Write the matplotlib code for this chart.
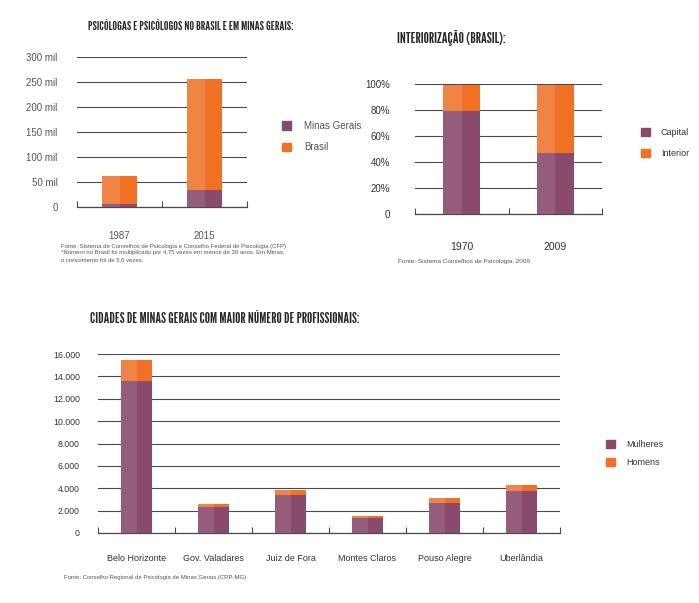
""" Psicólogas e psicólogos: Brasil e Minas Gerais """

import matplotlib
matplotlib.use("Agg")
import matplotlib.pyplot as plt
from matplotlib.patches import Patch

# --- dados ---
anos_1 = ["1987", "2015"]
minas_mil = [6, 34]
brasil_mil = [62, 256]
ticks_1 = [0, 50, 100, 150, 200, 250, 300]

anos_2 = ["1970", "2009"]
capital_pct = [79, 47]
interior_pct = [20, 52]
ticks_2 = [0, 20, 40, 60, 80, 100]

cidades = ["Belo Horizonte", "Gov. Valadares", "Juiz de Fora",
           "Montes Claros", "Pouso Alegre", "Uberlândia"]
mulheres = [13600, 2350, 3400, 1350, 2700, 3750]
homens = [1900, 250, 400, 200, 450, 550]
ticks_3 = [0, 2000, 4000, 6000, 8000, 10000, 12000, 14000, 16000]

ROXO = "#8a4a6c"
ROXO_CLARO = "#955c7c"
LARANJA = "#f07024"
LARANJA_CLARO = "#ef8444"
GRADE = "#4a4a4a"
TEXTO = "#555555"
TITULO = "#2a2a2a"

plt.rcParams["font.family"] = ["Liberation Sans", "DejaVu Sans"]
fonte_titulo = dict(family=["League Gothic", "Bebas Neue", "Oswald", "Roboto Condensed",
                            "Liberation Sans Narrow", "DejaVu Sans"],
                    weight="bold", fontsize=10, color=TITULO)

fig = plt.figure(figsize=(6.99, 6.03), dpi=100)
fig.patch.set_facecolor("white")


def px_axes(left, right, top, bottom):
	""" axes a partir de coordenadas em pixels """
	W, H = 699.0, 603.0
	return fig.add_axes([left / W, 1 - bottom / H, (right - left) / W, (bottom - top) / H])


def titulo(x0, x1, y, texto):
	""" título condensado ajustado à largura do original """
	t = fig.text(x0 / 699, 1 - y / 603, texto, va="center", **fonte_titulo)
	fig.canvas.draw()
	w = t.get_window_extent().width
	t.set_fontsize(t.get_fontsize() * (x1 - x0) / w)
	return t


def estilo(ax, n, pad_x, tick_len):
	""" estilo comum dos três gráficos """
	for s in ["top", "right", "left"]:
		ax.spines[s].set_visible(False)
	ax.spines["bottom"].set_color(GRADE)
	ax.spines["bottom"].set_linewidth(0.9)
	ax.set_xlim(0, n)
	ax.set_xticks(range(n + 1))
	ax.set_xticklabels([])
	ax.tick_params(axis="x", which="major", direction="in", length=tick_len,
	               width=0.8, color=GRADE)
	ax.set_xticks([i + 0.5 for i in range(n)], minor=True)
	ax.tick_params(axis="x", which="minor", length=0, pad=pad_x,
	               labelsize=7, labelcolor=TEXTO)
	ax.tick_params(axis="y", length=0, labelcolor=TEXTO)
	ax.yaxis.grid(True, color=GRADE, linewidth=0.8)
	ax.set_axisbelow(True)


def barra(ax, x, altura, base, cor, cor_clara, largura):
	""" barra com metade esquerda mais clara """
	ax.bar(x, altura, largura, bottom=base, color=cor, zorder=3)
	ax.bar([v - largura / 2 for v in x], altura, largura / 2, bottom=base,
	       color=cor_clara, align="edge", zorder=3)


# ---------- gráfico 1 ----------
ax1 = px_axes(77, 247, 57, 207)
estilo(ax1, 2, 17, 4)
x1 = [0.5, 1.5]
barra(ax1, x1, brasil_mil, 0, LARANJA, LARANJA_CLARO, 0.41)
barra(ax1, x1, minas_mil, 0, ROXO, ROXO_CLARO, 0.41)
ax1.set_ylim(0, 300)
ax1.set_yticks(ticks_1)
ax1.set_yticklabels(["0" if t == 0 else f"{t} mil" for t in ticks_1], fontsize=7)
ax1.tick_params(axis="y", pad=14)
ax1.set_xticklabels(anos_1, minor=True)
titulo(88, 292, 26, "PSICÓLOGAS E PSICÓLOGOS NO BRASIL E EM MINAS GERAIS:")
fig.legend(handles=[Patch(color=ROXO, label="Minas Gerais"),
                    Patch(color=LARANJA, label="Brasil")],
           loc="upper left", bbox_to_anchor=(273 / 699, 1 - 112 / 603),
           frameon=False, fontsize=7, labelcolor=TEXTO, handlelength=1.0,
           handleheight=1.0, labelspacing=1.2, handletextpad=1.3)
nota = ("Fonte: Sistema de Conselhos de Psicologia e Conselho Federal de Psicologia (CFP)\n"
        "*Número no Brasil foi multiplicado por 4,75 vezes em menos de 30 anos. Em Minas,\n"
        "o crescimento foi de 5,6 vezes.")
fig.text(61 / 699, 1 - 244 / 603, nota, va="top", fontsize=4.3, color=TEXTO,
         linespacing=1.35)

# ---------- gráfico 2 ----------
ax2 = px_axes(415, 602, 84, 214)
estilo(ax2, 2, 20, 4)
x2 = [0.5, 1.5]
barra(ax2, x2, capital_pct, 0, ROXO, ROXO_CLARO, 0.4)
barra(ax2, x2, interior_pct, capital_pct, LARANJA, LARANJA_CLARO, 0.4)
ax2.set_ylim(0, 100)
ax2.set_yticks(ticks_2)
ax2.set_yticklabels(["0" if t == 0 else f"{t}%" for t in ticks_2], fontsize=7)
ax2.tick_params(axis="y", pad=18, labelcolor="#333333")
ax2.set_xticklabels(anos_2, minor=True, color="#333333", fontsize=7.5)
titulo(397, 505, 38, "INTERIORIZAÇÃO (BRASIL):")
fig.legend(handles=[Patch(color=ROXO, label="Capital"),
                    Patch(color=LARANJA, label="Interior")],
           loc="upper left", bbox_to_anchor=(633 / 699, 1 - 120 / 603),
           frameon=False, fontsize=6.5, labelcolor="#333333", handlelength=1.0,
           handleheight=1.0, labelspacing=1.3, handletextpad=1.2)
fig.text(398 / 699, 1 - 262 / 603, "Fonte: Sistema Conselhos de Psicologia, 2009",
         va="center", fontsize=4.6, color=TEXTO)

# ---------- gráfico 3 ----------
ax3 = px_axes(98, 560, 354, 533)
estilo(ax3, 6, 15, 4)
x3 = [i + 0.5 for i in range(len(cidades))]
barra(ax3, x3, mulheres, 0, ROXO, ROXO_CLARO, 0.4)
barra(ax3, x3, homens, mulheres, LARANJA, LARANJA_CLARO, 0.4)
ax3.set_ylim(0, 16000)
ax3.set_yticks(ticks_3)
ax3.set_yticklabels([f"{t:,}".replace(",", ".") for t in ticks_3], fontsize=6.3)
ax3.tick_params(axis="y", pad=13, labelcolor="#333333")
ax3.set_xticklabels(cidades, minor=True, color="#333333", fontsize=6.5)
titulo(90, 356, 319, "CIDADES DE MINAS GERAIS COM MAIOR NÚMERO DE PROFISSIONAIS:")
fig.legend(handles=[Patch(color=ROXO, label="Mulheres"),
                    Patch(color=LARANJA, label="Homens")],
           loc="upper left", bbox_to_anchor=(598 / 699, 1 - 432 / 603),
           frameon=False, fontsize=6.5, labelcolor="#333333", handlelength=1.0,
           handleheight=1.0, labelspacing=1.0, handletextpad=1.2)
fig.text(64 / 699, 1 - 577 / 603, "Fonte: Conselho Regional de Psicologia de Minas Gerais (CRP-MG)",
         va="center", fontsize=4.3, color=TEXTO)

fig.savefig("out.png", dpi=100, facecolor="white")
